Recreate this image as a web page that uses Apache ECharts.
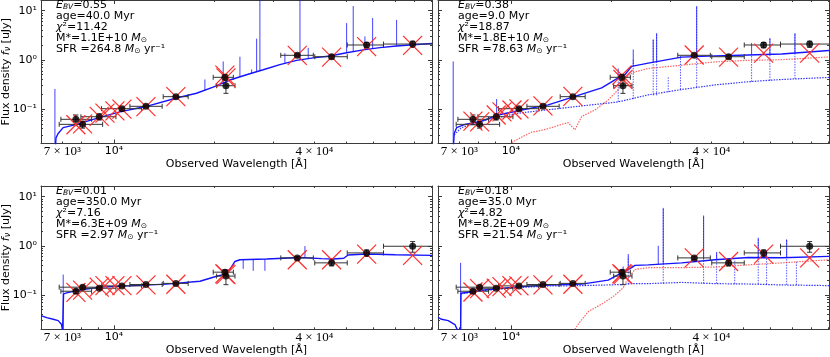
<!DOCTYPE html>
<html><head><meta charset="utf-8">
<script src="https://cdn.jsdelivr.net/npm/echarts@6.0.0/dist/echarts.min.js"></script>
<style>html,body{margin:0;padding:0;background:#fff}#c{width:830px;height:357px}</style>
</head><body><div id="c"></div>
<script>
// ---------------- data ----------------
const filterLam = [7690, 8053, 9033, 10570, 12480, 15350, 21540, 21700, 35530, 45050, 57400, 78900];
const filterLo  = [6930, 6850, 7960, 9180, 11170, 14060, 19870, 20350, 31700, 40100, 50200, 64500];
const filterHi  = [8570, 9250, 10140, 12110, 13960, 16710, 22840, 23100, 39700, 50200, 64500, 96000];
const obsTopFlux = [0.062, 0.049, 0.070, 0.102, 0.114, 0.179, 0.443, 0.299, 1.24, 1.16, 2.01, 2.10];
const obsTopErr  = [0.014, 0.008, 0.010, 0.007, 0.007, 0.010, 0.06, 0.09, 0.08, 0.10, 0.25, 0.30];
const obsBotFlux = [0.119, 0.144, 0.137, 0.153, 0.163, 0.172, 0.291, 0.242, 0.568, 0.45, 0.717, 0.98];
const obsBotErr  = [0.012, 0.010, 0.008, 0.007, 0.007, 0.008, 0.03, 0.08, 0.04, 0.06, 0.11, 0.24];

const modelLam = [7690, 8053, 9033, 9400, 10070, 10570, 12480, 15350, 21540, 21700, 35530, 45050, 57400, 78900];
const modelP1 = [0.048, 0.050, 0.071, 0.083, 0.092, 0.100, 0.112, 0.179, 0.49, 0.43, 1.24, 1.14, 1.86, 1.98];
const modelP2 = [0.057, 0.055, 0.076, 0.088, 0.096, 0.101, 0.116, 0.181, 0.49, 0.40, 1.26, 1.14, 1.37, 1.37];
const modelP3 = [0.113, 0.125, 0.144, 0.155, 0.155, 0.155, 0.160, 0.165, 0.27, 0.26, 0.52, 0.52, 0.68, 0.64];
const modelP4 = [0.115, 0.135, 0.138, 0.148, 0.155, 0.153, 0.160, 0.165, 0.27, 0.26, 0.57, 0.48, 0.68, 0.57];

const specP1 = [[6650,0.012],[6700,0.026],[6800,0.032],[7040,0.042],[7730,0.049],[9080,0.068],[10420,0.088],[12530,0.114],[15420,0.168],[17700,0.21],[19860,0.28],[22290,0.39],[25010,0.50],[28070,0.63],[31500,0.80],[35360,0.98],[39670,1.10],[44540,1.20],[49990,1.40],[56090,1.60],[62930,1.78],[70610,1.92],[79240,2.03],[90200,2.15]];
const spikesP1 = [[6650,0.015,0.257],[18760,0.24,0.40],[21290,0.33,0.93],[23900,0.45,1.16],[25920,0.53,0.64],[26830,0.57,2.7],[27440,0.60,30],[32620,0.85,1.37],[36200,1.0,30],[38330,1.06,1.76],[49980,1.40,5.6],[52320,1.48,12.4],[56730,1.60,3.0],[59830,1.70,7.1],[70620,1.92,6.5]];

const specP2 = [[6700,0.012],[6756,0.032],[6869,0.042],[7276,0.049],[8166,0.057],[9160,0.076],[10770,0.096],[12940,0.122],[15570,0.181],[18730,0.27],[21000,0.43],[21990,0.50],[23040,0.74],[25850,0.86],[32550,1.14],[40990,1.21],[51600,1.26],[65000,1.32],[90200,1.55]];
const spikesP2 = [[6710,0.015,0.93],[9059,0.076,0.16],[21000,0.43,0.67],[23300,0.76,1.63],[26750,0.88,2.6],[27390,0.9,3.5],[36130,1.17,12.4],[52820,1.26,2.2],[59950,1.28,2.75],[71270,1.35,3.5]];
const redP2 = [[10050,0.021],[10770,0.027],[11540,0.034],[12360,0.037],[13250,0.042],[14200,0.049],[14860,0.053],[15570,0.038],[16310,0.071],[17880,0.096],[19600,0.154],[20770,0.23],[21730,0.33],[22510,0.49],[23570,0.57],[25850,0.67],[32550,0.78],[40990,0.91],[51600,0.98],[65000,1.01],[90200,1.15]];
const blueDotP2 = [[6756,0.030],[7100,0.042],[8166,0.057],[10420,0.082],[12940,0.097],[16310,0.116],[21000,0.14],[25850,0.195],[32550,0.25],[40990,0.31],[51600,0.36],[65000,0.40],[90200,0.44]];
const blueDotSpikesP2 = [[21000,0.14,0.5],[23300,0.16,1.0],[26750,0.19,2.6],[27390,0.19,3.5],[29680,0.22,0.45],[32300,0.25,1.2],[36130,0.28,12],[52820,0.36,1.3],[59950,0.38,2.8],[71270,0.41,3.5]];

const specP3 = [[6040,0.038],[6066,0.040],[6280,0.0345],[6572,0.032],[6803,0.030],[6965,0.025],[7013,0.018],[7045,0.018],[7060,0.105],[7211,0.110],[7727,0.123],[9078,0.144],[11430,0.155],[14390,0.166],[18130,0.19],[20340,0.24],[21290,0.26],[22300,0.33],[23090,0.48],[23900,0.52],[28740,0.54],[36200,0.58],[42000,0.55],[45570,0.54],[49000,0.56],[50500,0.65],[57410,0.68],[70000,0.66],[90200,0.64]];
const spikesP3 = [[7042,0.018,0.26],[37470,0.58,0.99],[24450,0.52,0.34],[26200,0.53,0.31],[28410,0.54,0.31]];

const specP4 = [[6040,0.035],[6193,0.032],[6482,0.030],[6789,0.025],[6945,0.018],[7062,0.018],[7080,0.108],[7111,0.110],[8166,0.125],[10280,0.144],[12940,0.16],[16310,0.166],[19600,0.20],[21500,0.28],[23040,0.36],[23570,0.40],[25850,0.41],[32550,0.45],[40990,0.52],[51600,0.58],[65000,0.57],[90200,0.61]];
const spikesP4 = [[7062,0.018,0.45],[21730,0.28,0.38],[22510,0.33,0.68],[27700,0.42,1.0],[28670,0.42,5.9],[37900,0.53,4.1],[41470,0.55,0.75],[55300,0.58,1.46],[58590,0.58,0.8],[67300,0.58,1.35]];
const redP4 = [[15570,0.02],[16000,0.0265],[17080,0.046],[18730,0.065],[20340,0.094],[21730,0.14],[22510,0.22],[23570,0.33],[25850,0.36],[32550,0.36],[40990,0.37],[51600,0.41],[65000,0.45],[90200,0.52]];
const blueDotP4 = [[7080,0.105],[7111,0.108],[8166,0.122],[10280,0.140],[12940,0.152],[16310,0.155],[19600,0.16],[21500,0.163],[23040,0.17],[25850,0.17],[32550,0.18],[40990,0.17],[51600,0.167],[65000,0.16],[90200,0.155]];
const blueDotSpikesP4 = [[22510,0.165,0.6],[28670,0.17,5.9],[37900,0.17,4.1],[41470,0.17,0.7],[47000,0.168,0.5],[55300,0.167,1.4],[58590,0.165,0.8],[67300,0.16,1.3],[72000,0.16,0.5]];

const xLabelValues = [7000, 10000, 40000];
const xLabelTexts  = ['{s|7 × 10³}', '{m|10⁴}', '{s|4 × 10⁴}'];
const xMajorTicks = [10000];
const xMinorTicks = [7000, 8000, 9000, 20000, 30000, 40000, 50000, 60000, 70000, 80000, 90000];
const yLabelValues = [0.1, 1, 10];
const yLabelTexts  = ['10⁻¹', '10⁰', '10¹'];
const yMinorTicks = [0.02,0.03,0.04,0.05,0.06,0.07,0.08,0.09,0.2,0.3,0.4,0.5,0.6,0.7,0.8,0.9,2,3,4,5,6,7,8,9];

const panelEBV = ['0.55', '0.38', '0.01', '0.18'];
const panelAge = ['40.0', '9.0', '350.0', '35.0'];
const panelChi = ['11.42', '18.87', '7.16', '4.82'];
const panelMass = ['1.1E+10', '1.8E+10', '6.3E+09', '8.2E+09'];
const panelSFR = ['264.8', '78.63', '2.97', '21.54'];

// ---------------- styling ----------------
const X_MIN = 6040, X_MAX = 90200, Y_MIN = 0.02, Y_MAX = 16.5;
const FRAME = '#3a3a3a';
const BLUE = 'rgb(20,20,255)';
const BLUE_DOT = 'rgba(20,20,255,0.85)';
const RED_DOT = 'rgba(255,50,50,0.75)';
const RED_X = 'rgb(255,45,45)';
const ERR = '#333';
const ANN_FONT = 11;

const grids = [
  {left: 41, top: 0, width: 391, height: 143.5},
  {left: 438, top: 0, width: 391, height: 143.5},
  {left: 41, top: 186, width: 391, height: 143.3},
  {left: 438, top: 186, width: 391, height: 143.3}
].map(g => Object.assign(g, {containLabel: false, outerBoundsMode: 'none'}));

function pick(values, texts, v) {
  let best = 0, bd = Infinity;
  values.forEach((t, i) => { const d = Math.abs(Math.log(v / t)); if (d < bd) { bd = d; best = i; } });
  return texts[best];
}

const xAxes = [], yAxes = [];
for (let gi = 0; gi < 4; gi++) {
  const bx = {type: 'log', logBase: 10, min: X_MIN, max: X_MAX, gridIndex: gi,
    splitLine: {show: false}, axisPointer: {show: false}, nameMoveOverlap: false};
  const lineOn = {show: true, onZero: false, lineStyle: {color: FRAME, width: 1}};
  const major = {show: true, inside: true, length: 4, customValues: xMajorTicks, lineStyle: {color: FRAME, width: 1}};
  const minor = {show: true, inside: true, length: 2, customValues: xMinorTicks, lineStyle: {color: FRAME, width: 1}};
  xAxes.push(Object.assign({}, bx, {position: 'bottom', axisLine: lineOn, axisTick: major,
    axisLabel: {show: true, customValues: xLabelValues, margin: 2, color: '#000',
      formatter: v => pick(xLabelValues, xLabelTexts, v),
      rich: {s: {fontFamily: 'Liberation Serif', fontSize: 13, color: '#000'},
             m: {fontFamily: 'DejaVu Sans', fontSize: 11, color: '#000'}}},
    name: 'Observed Wavelength [Å]', nameLocation: 'middle', nameGap: 15,
    nameTextStyle: {fontFamily: 'DejaVu Sans', fontSize: 11, color: '#000'}}));
  xAxes.push(Object.assign({}, bx, {position: 'bottom', axisLine: {show: false}, axisTick: minor, axisLabel: {show: false}}));
  xAxes.push(Object.assign({}, bx, {position: 'top', axisLine: lineOn, axisTick: major, axisLabel: {show: false}}));
  xAxes.push(Object.assign({}, bx, {position: 'top', axisLine: {show: false}, axisTick: minor, axisLabel: {show: false}}));

  const by = {type: 'log', logBase: 10, min: Y_MIN, max: Y_MAX, gridIndex: gi,
    splitLine: {show: false}, axisPointer: {show: false}, nameMoveOverlap: false};
  const ymajor = {show: true, inside: true, length: 4, customValues: yLabelValues, lineStyle: {color: FRAME, width: 1}};
  const yminor = {show: true, inside: true, length: 2, customValues: yMinorTicks, lineStyle: {color: FRAME, width: 1}};
  const leftPanel = (gi % 2 === 0);
  const yl = Object.assign({}, by, {position: 'left', axisLine: lineOn, axisTick: ymajor,
    axisLabel: {show: leftPanel, customValues: yLabelValues, margin: 4, color: '#000',
      fontFamily: 'DejaVu Sans', fontSize: 11, formatter: v => pick(yLabelValues, yLabelTexts, v)}});
  if (leftPanel) {
    Object.assign(yl, {name: '{n|Flux density }{i|f}{sub|ν}{n| [uJy]}', nameLocation: 'middle', nameGap: 29, nameRotate: 90,
      nameTextStyle: {fontFamily: 'DejaVu Sans', fontSize: 11, color: '#000',
        rich: {n: {fontFamily: 'DejaVu Sans', fontSize: 11, color: '#000'},
               i: {fontFamily: 'DejaVu Sans', fontStyle: 'italic', fontSize: 11, color: '#000'},
               sub: {fontFamily: 'DejaVu Sans', fontStyle: 'italic', fontSize: 8, lineHeight: 8, verticalAlign: 'bottom', color: '#000'}}}});
  }
  yAxes.push(yl);
  yAxes.push(Object.assign({}, by, {position: 'left', axisLine: {show: false}, axisTick: yminor, axisLabel: {show: false}}));
  yAxes.push(Object.assign({}, by, {position: 'right', axisLine: lineOn, axisTick: ymajor, axisLabel: {show: false}}));
  yAxes.push(Object.assign({}, by, {position: 'right', axisLine: {show: false}, axisTick: yminor, axisLabel: {show: false}}));
}

function seg(x1, y1, x2, y2, stroke, width, dash) {
  const style = {stroke: stroke, fill: null, lineWidth: width || 1};
  if (dash) style.lineDash = dash;
  return {type: 'line', shape: {x1, y1, x2, y2}, style};
}
function errRender(params, api) {
  const x = api.value(0), y = api.value(1), lo = api.value(2), hi = api.value(3), e = api.value(4);
  const c = api.coord([x, y]), l = api.coord([lo, y]), r = api.coord([hi, y]);
  const t = api.coord([x, y + e]), b = api.coord([x, Math.max(y - e, 1e-4)]);
  const k = 2.5;
  return {type: 'group', children: [
    seg(l[0], c[1], r[0], c[1], ERR), seg(l[0], c[1] - k, l[0], c[1] + k, ERR), seg(r[0], c[1] - k, r[0], c[1] + k, ERR),
    seg(c[0], t[1], c[0], b[1], ERR), seg(c[0] - k, t[1], c[0] + k, t[1], ERR), seg(c[0] - k, b[1], c[0] + k, b[1], ERR)]};
}
function xRender(params, api) {
  const c = api.coord([api.value(0), api.value(1)]); const h = 9.5;
  return {type: 'group', children: [seg(c[0] - h, c[1] - h, c[0] + h, c[1] + h, RED_X, 1.2), seg(c[0] - h, c[1] + h, c[0] + h, c[1] - h, RED_X, 1.2)]};
}
function spikeRender(color, dash) {
  return function (params, api) {
    const a = api.coord([api.value(0), api.value(1)]), b = api.coord([api.value(0), api.value(2)]);
    return seg(a[0], a[1], b[0], b[1], color, 1, dash);
  };
}

const series = [];
function ax(gi) { return {xAxisIndex: gi * 4, yAxisIndex: gi * 4}; }
function addLine(gi, data, color, type, width, z) {
  series.push(Object.assign({type: 'line', data: data, showSymbol: false, symbol: 'none', clip: true, z: z,
    lineStyle: {color: color, width: width, type: type}, silent: true}, ax(gi)));
}
function addSpikes(gi, data, color, dash, z) {
  series.push(Object.assign({type: 'custom', data: data, clip: true, z: z, silent: true, encode: {x: 0, y: 1},
    renderItem: spikeRender(color, dash)}, ax(gi)));
}
const panels = [
  {spec: specP1, spikes: spikesP1, model: modelP1, obs: obsTopFlux, err: obsTopErr},
  {spec: specP2, spikes: spikesP2, model: modelP2, obs: obsTopFlux, err: obsTopErr, red: redP2, bdot: blueDotP2, bdotSp: blueDotSpikesP2},
  {spec: specP3, spikes: spikesP3, model: modelP3, obs: obsBotFlux, err: obsBotErr},
  {spec: specP4, spikes: spikesP4, model: modelP4, obs: obsBotFlux, err: obsBotErr, red: redP4, bdot: blueDotP4, bdotSp: blueDotSpikesP4}
];
panels.forEach((p, gi) => {
  if (p.red) addLine(gi, p.red, RED_DOT, [1.5, 1.2], 1.2, 1);
  if (p.bdot) { addLine(gi, p.bdot, BLUE_DOT, [1.5, 1.2], 1.2, 1); addSpikes(gi, p.bdotSp, 'rgba(20,20,255,0.7)', [1.5, 1.2], 1); }
  addLine(gi, p.spec, BLUE, 'solid', 1.4, 2);
  addSpikes(gi, p.spikes, 'rgba(20,20,255,0.8)', null, 2);
  series.push(Object.assign({type: 'custom', clip: true, z: 3, silent: true, encode: {x: 0, y: 1},
    data: filterLam.map((l, i) => [l, p.obs[i], filterLo[i], filterHi[i], p.err[i]]), renderItem: errRender}, ax(gi)));
  series.push(Object.assign({type: 'custom', clip: true, z: 4, silent: true, encode: {x: 0, y: 1},
    data: modelLam.map((l, i) => [l, p.model[i]]), renderItem: xRender}, ax(gi)));
  series.push(Object.assign({type: 'scatter', z: 5, silent: true, symbol: 'circle', symbolSize: 7,
    itemStyle: {color: '#000'}, data: filterLam.map((l, i) => [l, p.obs[i]])}, ax(gi)));
});

const annPos = [[56, 0], [458, 0], [56, 186], [458, 186]];
const annRich = {
  n: {fontSize: ANN_FONT, fontFamily: 'DejaVu Sans', color: '#000', lineHeight: 11},
  i: {fontStyle: 'italic', fontSize: ANN_FONT, fontFamily: 'DejaVu Sans', color: '#000', lineHeight: 11},
  s: {fontStyle: 'italic', fontSize: 7.5, fontFamily: 'DejaVu Sans', color: '#000', lineHeight: 7.5, verticalAlign: 'bottom'},
  o: {fontSize: 7.5, fontFamily: 'DejaVu Sans', color: '#000', lineHeight: 7.5, verticalAlign: 'bottom'}
};
const titles = annPos.map((pos, i) => ({
  left: pos[0], top: pos[1], padding: 0, itemGap: 0, silent: true,
  text: '{i|E}{s|BV}{n|=' + panelEBV[i] + '}\n{n|age=' + panelAge[i] + ' Myr}\n{i|χ}{n|²=' + panelChi[i] +
        '}\n{n|M*=' + panelMass[i] + ' }{i|M}{o|⊙}\n{n|SFR =' + panelSFR[i] + ' }{i|M}{o|⊙}{n| yr⁻¹}',
  textStyle: {fontFamily: 'DejaVu Sans', fontSize: ANN_FONT, fontWeight: 'normal', lineHeight: 11, color: '#000', rich: annRich}
}));

const chart = echarts.init(document.getElementById('c'), null, {renderer: 'canvas'});
chart.setOption({
  animation: false,
  backgroundColor: '#fff',
  textStyle: {fontFamily: 'DejaVu Sans'},
  title: titles,
  grid: grids, xAxis: xAxes, yAxis: yAxes, series: series
});
</script></body></html>
